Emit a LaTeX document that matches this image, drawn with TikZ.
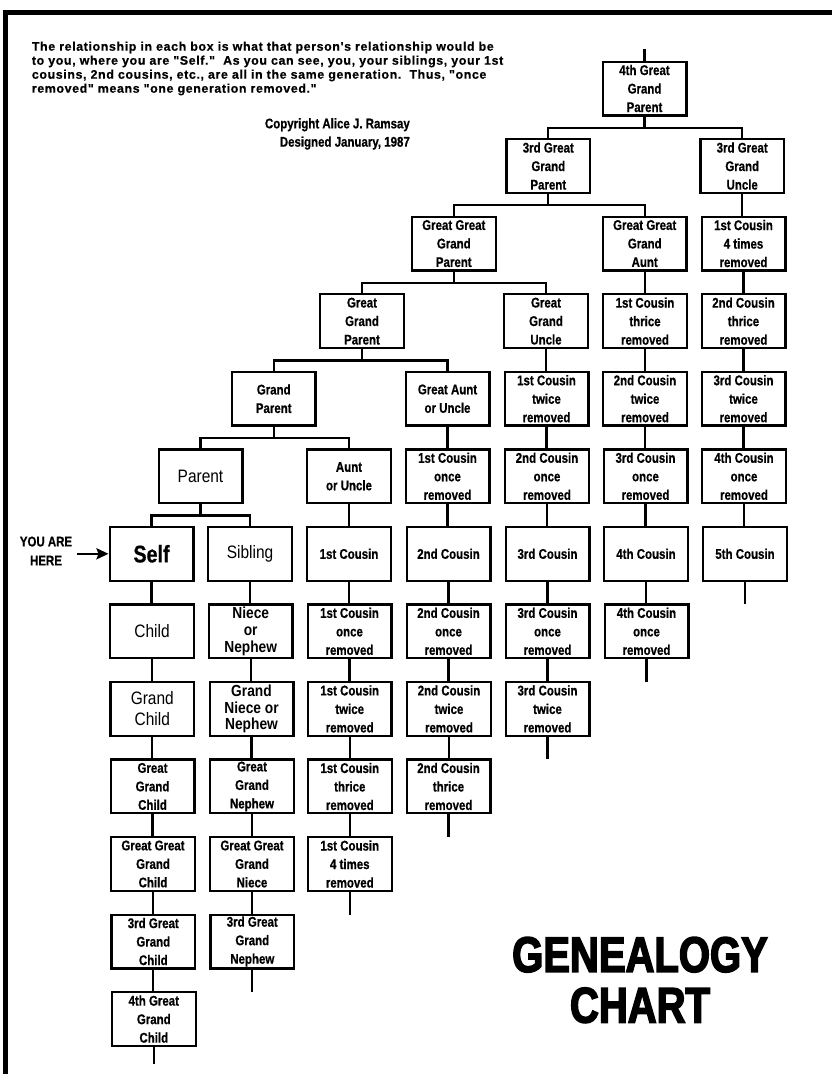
\documentclass[tikz,border=0pt]{standalone}
\usepackage{fontspec}
\usetikzlibrary{arrows.meta}
\newfontfamily\nrw[FakeStretch=0.82,FakeBold=0.6]{Liberation Sans}
\newfontfamily\reg[FakeStretch=0.86]{Liberation Sans}
\newfontfamily\para[LetterSpace=5,FakeBold=0.5]{Liberation Sans}
\newfontfamily\ttlfont[FakeStretch=0.8,FakeBold=3]{Liberation Sans}
\newcommand\mkfork[3]{\draw[link] (#1.south) -- ++(0,11.3) coordinate (#1bar); \draw[link] (#2.north) |- (#1bar) -| (#3.north);}
\newcommand\vlink[2]{\draw[link] (#1.south) -- (#1.south |- #2.north);}
\newcommand\mkstub[3]{\draw[link] (#1.south) -- ++(0,#3) coordinate (#2);}
\begin{document}
\begin{tikzpicture}[x=1pt,y=-1pt,
  box/.style={draw,line width=2.3pt,minimum width=83.7pt,minimum height=53.7pt,inner sep=0pt,align=center,font=\nrw\bfseries\fontsize{14}{18.5}\selectfont},
  selfbox/.style={box,font=\nrw\bfseries\fontsize{24}{28}\selectfont},
  plainbox/.style={box,font=\reg\fontsize{18}{21}\selectfont},
  midbox/.style={box,font=\reg\bfseries\fontsize{16}{16.7}\selectfont},
  link/.style={line width=2.2pt},
  note/.style={inner sep=0pt,font=\nrw\bfseries\fontsize{14}{18.3}\selectfont}]
\useasboundingbox (0,0) rectangle (832,1074);
\fill[white] (0,0) rectangle (832,1074);
\fill[black] (3,10) rectangle (832,15);
\fill[black] (3,10) rectangle (8,1074);

% text
\node[inner sep=0pt,anchor=north west,align=left,font=\para\bfseries\fontsize{12.4}{14}\selectfont] (intro) at (31.7,41.5)
 {The relationship in each box is what that person's relationship would be\\
  to you, where you are "Self."\ \ As you can see, you, your siblings, your 1st\\
  cousins, 2nd cousins, etc., are all in the same generation.\ \ Thus, "once\\
  removed" means "one generation removed."};
\node[note,anchor=north east,align=right] (copy) at (410,118) {Copyright Alice J. Ramsay\\Designed January, 1987};
\node[note,align=center,font=\nrw\bfseries\fontsize{14}{19}\selectfont] (yah) at (46,551) {YOU ARE\\HERE};
\node[inner sep=0pt,align=center,font=\ttlfont\bfseries\fontsize{50}{50.6}\selectfont] (title) at (640,980) {GENEALOGY\\CHART};

% row 0
\node[box] (g4p) at (644.5,88.5) {4th Great\\Grand\\Parent};
% row 1
\node[box] (g3p) at (548.3,166.05) {3rd Great\\Grand\\Parent};
\node[box] (g3u) at (742.2,166.05) {3rd Great\\Grand\\Uncle};
% row 2
\node[box] (g2p) at (453.8,243.6) {Great Great\\Grand\\Parent};
\node[box] (g2a) at (644.7,243.6) {Great Great\\Grand\\Aunt};
\node[box] (k1r4) at (743.5,243.6) {1st Cousin\\4 times\\removed};
% row 3
\node[box] (g1p) at (362,321.15) {Great\\Grand\\Parent};
\node[box] (g1u) at (546,321.15) {Great\\Grand\\Uncle};
\node[box] (k1r3) at (645,321.15) {1st Cousin\\thrice\\removed};
\node[box] (k2r3) at (743.5,321.15) {2nd Cousin\\thrice\\removed};
% row 4
\node[box] (gp) at (273.7,398.7) {Grand\\Parent};
\node[box] (gau) at (447.5,398.7) {Great Aunt\\or Uncle};
\node[box] (k1r2) at (546.5,398.7) {1st Cousin\\twice\\removed};
\node[box] (k2r2) at (645,398.7) {2nd Cousin\\twice\\removed};
\node[box] (k3r2) at (743.5,398.7) {3rd Cousin\\twice\\removed};
% row 5
\node[plainbox] (par) at (200.5,476.25) {Parent};
\node[box] (au) at (349,476.25) {Aunt\\or Uncle};
\node[box] (k1r1) at (447.5,476.25) {1st Cousin\\once\\removed};
\node[box] (k2r1) at (547,476.25) {2nd Cousin\\once\\removed};
\node[box] (k3r1) at (645.5,476.25) {3rd Cousin\\once\\removed};
\node[box] (k4r1) at (744,476.25) {4th Cousin\\once\\removed};
% row 6
\node[selfbox] (self) at (151.5,553.8) {Self};
\node[plainbox] (sib) at (250,553.8) {Sibling};
\node[box] (k1) at (349,553.8) {1st Cousin};
\node[box] (k2) at (448.5,553.8) {2nd Cousin};
\node[box] (k3) at (547.5,553.8) {3rd Cousin};
\node[box] (k4) at (646,553.8) {4th Cousin};
\node[box] (k5) at (745,553.8) {5th Cousin};
% row 7
\node[plainbox] (ch) at (152,631.35) {Child};
\node[midbox] (nn) at (250.7,631.35) {Niece\\or\\Nephew};
\node[box] (d1r1) at (349.5,631.35) {1st Cousin\\once\\removed};
\node[box] (d2r1) at (448.5,631.35) {2nd Cousin\\once\\removed};
\node[box] (d3r1) at (547.5,631.35) {3rd Cousin\\once\\removed};
\node[box] (d4r1) at (646.5,631.35) {4th Cousin\\once\\removed};
% row 8
\node[plainbox] (gch) at (152.3,708.9) {Grand\\Child};
\node[midbox] (gnn) at (251.5,708.9) {Grand\\Niece or\\Nephew};
\node[box] (d1r2) at (349.7,708.9) {1st Cousin\\twice\\removed};
\node[box] (d2r2) at (449,708.9) {2nd Cousin\\twice\\removed};
\node[box] (d3r2) at (547.5,708.9) {3rd Cousin\\twice\\removed};
% row 9
\node[box] (g1ch) at (152.5,786.45) {Great\\Grand\\Child};
\node[box] (g1nep) at (252,786.45) {Great\\Grand\\Nephew};
\node[box] (d1r3) at (349.8,786.45) {1st Cousin\\thrice\\removed};
\node[box] (d2r3) at (448.5,786.45) {2nd Cousin\\thrice\\removed};
% row 10
\node[box] (g2ch) at (153,864) {Great Great\\Grand\\Child};
\node[box] (g2ni) at (252,864) {Great Great\\Grand\\Niece};
\node[box] (d1r4) at (349.8,864) {1st Cousin\\4 times\\removed};
% row 11
\node[box] (g3ch) at (153.3,941.55) {3rd Great\\Grand\\Child};
\node[box] (g3nep) at (252.3,941.55) {3rd Great\\Grand\\Nephew};
% row 12
\node[box] (g4ch) at (153.8,1019.1) {4th Great\\Grand\\Child};

% connectors
\coordinate (topstub) at (644.5,49);
\draw[link] (topstub) -- (g4p.north);
\mkfork{g4p}{g3p}{g3u}
\mkfork{g3p}{g2p}{g2a}
\vlink{g3u}{k1r4}
\mkfork{g2p}{g1p}{g1u}
\vlink{g2a}{k1r3}
\vlink{k1r4}{k2r3}
\mkfork{g1p}{gp}{gau}
\vlink{g1u}{k1r2}
\vlink{k1r3}{k2r2}
\vlink{k2r3}{k3r2}
\mkfork{gp}{par}{au}
\vlink{gau}{k1r1}
\vlink{k1r2}{k2r1}
\vlink{k2r2}{k3r1}
\vlink{k3r2}{k4r1}
\mkfork{par}{self}{sib}
\vlink{au}{k1}
\vlink{k1r1}{k2}
\vlink{k2r1}{k3}
\vlink{k3r1}{k4}
\vlink{k4r1}{k5}
\vlink{self}{ch}
\vlink{sib}{nn}
\vlink{k1}{d1r1}
\vlink{k2}{d2r1}
\vlink{k3}{d3r1}
\vlink{k4}{d4r1}
\mkstub{k5}{k5end}{22.5}
\vlink{ch}{gch}
\vlink{nn}{gnn}
\vlink{d1r1}{d1r2}
\vlink{d2r1}{d2r2}
\vlink{d3r1}{d3r2}
\mkstub{d4r1}{d4r1end}{22.5}
\vlink{gch}{g1ch}
\vlink{gnn}{g1nep}
\vlink{d1r2}{d1r3}
\vlink{d2r2}{d2r3}
\mkstub{d3r2}{d3r2end}{22.5}
\vlink{g1ch}{g2ch}
\vlink{g1nep}{g2ni}
\vlink{d1r3}{d1r4}
\mkstub{d2r3}{d2r3end}{22.5}
\vlink{g2ch}{g3ch}
\vlink{g2ni}{g3nep}
\mkstub{d1r4}{d1r4end}{22.5}
\vlink{g3ch}{g4ch}
\mkstub{g3nep}{g3nepend}{22.5}
\mkstub{g4ch}{g4chend}{16.5}

% you are here arrow
\coordinate (arrowstart) at (77,553.8);
\draw[line width=2.5pt,-{Stealth[length=12pt,width=11pt,inset=2pt]}] (arrowstart) -- (self.west);
\end{tikzpicture}
\end{document}
